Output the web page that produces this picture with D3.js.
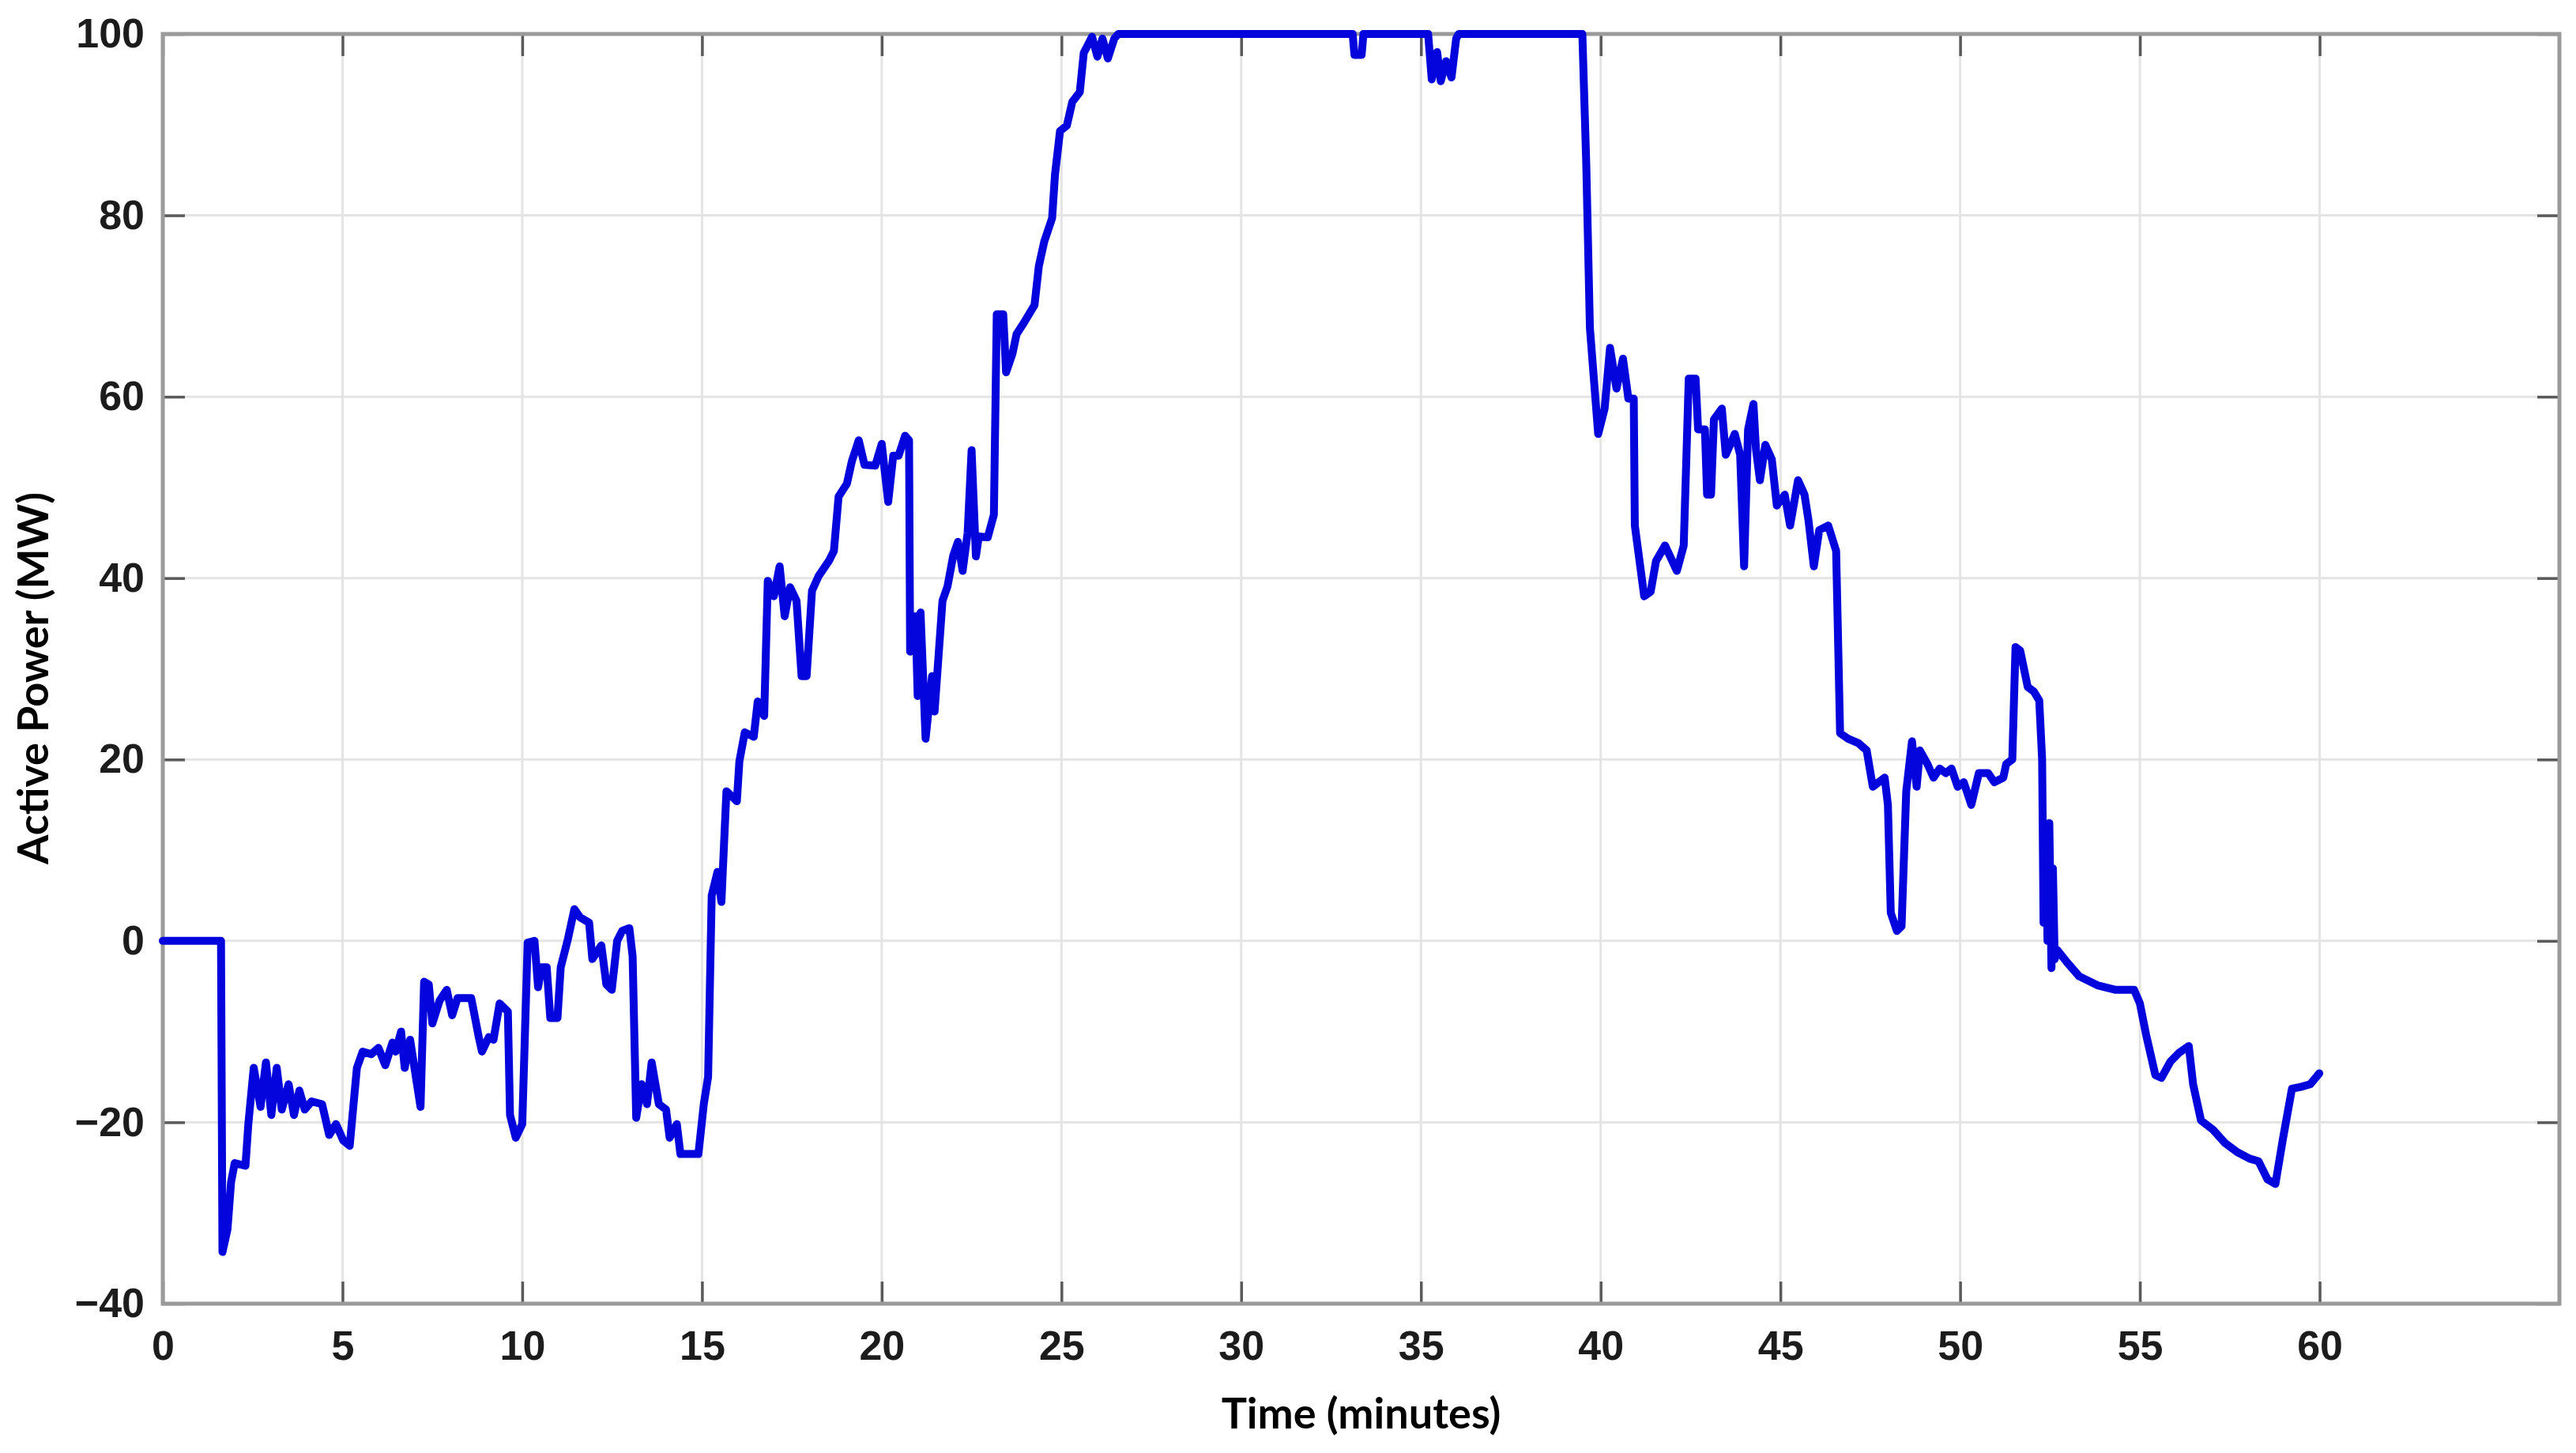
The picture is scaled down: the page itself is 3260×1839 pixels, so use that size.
<!DOCTYPE html>
<html>
<head>
<meta charset="utf-8">
<script src="https://cdn.jsdelivr.net/npm/d3@7"></script>
<style>
  html, body { margin: 0; padding: 0; background: #ffffff; }
  svg { display: block; }
</style>
</head>
<body>
<svg id="chart" width="3260" height="1839"></svg>
<script>
// ---------------- DATA ----------------
const timeMin = [
  0, 1.62, 1.66, 1.8, 1.9, 2.0, 2.3, 2.38, 2.53, 2.72, 2.87, 3.02, 3.17, 3.31, 3.5, 3.65, 3.8, 3.95, 4.14, 4.43,
  4.63, 4.82, 5.02, 5.2, 5.4, 5.56, 5.8, 6.0, 6.19, 6.39, 6.48, 6.63, 6.73, 6.88, 7.17, 7.27, 7.4, 7.5, 7.7, 7.9,
  8.05, 8.2, 8.58, 8.79, 8.88, 9.07, 9.2, 9.37, 9.6, 9.66, 9.82, 10.0, 10.15, 10.34, 10.44, 10.54, 10.68, 10.78, 10.98, 11.07,
  11.27, 11.45, 11.61, 11.86, 11.95, 12.2, 12.34, 12.49, 12.64, 12.78, 12.98, 13.07, 13.17, 13.32, 13.47, 13.6, 13.8, 14.0, 14.1, 14.3,
  14.4, 14.9, 15.05, 15.17, 15.27, 15.43, 15.54, 15.68, 15.97, 16.04, 16.19, 16.44, 16.55, 16.73, 16.83, 17.0, 17.16, 17.3, 17.45, 17.63,
  17.77, 17.91, 18.06, 18.24, 18.53, 18.67, 18.8, 19.03, 19.17, 19.36, 19.52, 19.82, 20.0, 20.18, 20.32, 20.47, 20.65, 20.76, 20.79, 20.94,
  21.0, 21.08, 21.22, 21.4, 21.47, 21.69, 21.83, 21.99, 22.12, 22.25, 22.39, 22.5, 22.62, 22.7, 22.95, 23.12, 23.2, 23.38, 23.46, 23.64,
  23.75, 23.93, 24.25, 24.37, 24.52, 24.74, 24.82, 24.96, 25.15, 25.3, 25.51, 25.62, 25.85, 26.0, 26.14, 26.29, 26.47, 26.58, 33.1, 33.15,
  33.35, 33.4, 35.2, 35.3, 35.45, 35.55, 35.7, 35.85, 35.98, 36.05, 39.49, 39.6, 39.7, 39.93, 40.11, 40.26, 40.44, 40.62, 40.77, 40.92,
  40.95, 41.21, 41.39, 41.54, 41.79, 42.12, 42.31, 42.45, 42.64, 42.71, 42.9, 42.96, 43.07, 43.15, 43.37, 43.48, 43.73, 43.88, 43.99, 44.1,
  44.25, 44.32, 44.43, 44.58, 44.76, 44.9, 45.12, 45.27, 45.49, 45.67, 45.78, 45.93, 46.08, 46.33, 46.55, 46.66, 46.88, 47.17, 47.4, 47.57,
  47.9, 47.99, 48.07, 48.24, 48.37, 48.5, 48.66, 48.79, 48.88, 49.09, 49.26, 49.43, 49.6, 49.76, 49.93, 50.1, 50.31, 50.52, 50.78, 50.95,
  51.2, 51.28, 51.45, 51.54, 51.67, 51.88, 52.05, 52.2, 52.28, 52.32, 52.38, 52.43, 52.48, 52.54, 52.58, 52.63, 52.7, 52.98, 53.31, 53.82,
  54.33, 54.84, 55.0, 55.17, 55.43, 55.6, 55.85, 56.1, 56.36, 56.48, 56.7, 57.03, 57.37, 57.71, 58.05, 58.3, 58.55, 58.77, 58.98, 59.23,
  59.48, 59.74, 59.99
];
const powerMW = [
  0, 0, -34.3, -31.8, -26.6, -24.5, -24.8, -20.2, -14, -18.3, -13.4, -19.2, -14, -18.6, -15.8, -19.2, -16.5, -18.6, -17.7, -18,
  -21.4, -20.2, -22, -22.6, -14, -12.2, -12.5, -11.8, -13.7, -11.2, -12.2, -10, -14, -10.9, -18.3, -4.5, -4.8, -9.1, -6.6, -5.4,
  -8.2, -6.3, -6.3, -10.6, -12.2, -10.6, -10.9, -6.9, -7.8, -19.2, -21.7, -20.2, -0.2, 0, -5.1, -2.9, -2.9, -8.5, -8.5, -2.9,
  0.2, 3.5, 2.6, 2, -2, -0.5, -4.8, -5.4, 0, 1.1, 1.4, -1.7, -19.5, -15.8, -18, -13.4, -18, -18.6, -21.7, -20.2,
  -23.5, -23.5, -18, -15, 5, 7.6, 4.3, 16.5, 15.4, 19.8, 23, 22.5, 26.4, 24.8, 39.7, 38, 41.3, 35.8, 39, 37.5,
  29.2, 29.2, 38.6, 40.2, 41.9, 43, 49, 50.4, 52.9, 55.2, 52.5, 52.4, 54.8, 48.4, 53.5, 53.5, 55.7, 55.2, 31.9, 35.8,
  27, 36.2, 22.3, 29.2, 25.3, 37.5, 39.1, 42.5, 44, 40.8, 45, 54.1, 42.4, 44.6, 44.5, 47, 69.1, 69.1, 62.7, 64.8,
  66.9, 68, 70.1, 74.4, 77.1, 79.7, 84.5, 89.3, 89.9, 92.5, 93.6, 97.9, 99.7, 97.5, 99.5, 97.3, 99.5, 100, 100, 97.7,
  97.7, 100, 100, 95, 98, 94.8, 97, 95.2, 99.5, 100, 100, 85.5, 67.6, 55.9, 58.7, 65.4, 60.9, 64.2, 59.8, 59.8,
  45.8, 38, 38.5, 41.9, 43.6, 40.8, 43.6, 62, 62, 56.4, 56.4, 49.2, 49.2, 57.5, 58.7, 53.6, 55.9, 53.6, 41.3, 56.4,
  59.2, 54.2, 50.8, 54.7, 53.1, 48, 49.2, 45.8, 50.8, 49.2, 46.4, 41.3, 45.3, 45.8, 43, 22.9, 22.3, 21.8, 21, 17,
  18, 15, 3.1, 1.1, 1.6, 16.5, 22, 17, 21, 19.5, 18, 19, 18.5, 19, 17, 17.5, 15, 18.5, 18.5, 17.5,
  18, 19.5, 20, 32.4, 32, 28, 27.5, 26.5, 20, 2, 12.5, 0, 13, -3, 8, -2, -1, -2.4, -3.9, -4.9,
  -5.4, -5.4, -6.9, -10.3, -14.8, -15.1, -13.3, -12.3, -11.6, -15.8, -19.8, -20.8, -22.3, -23.3, -24, -24.3, -26.3, -26.8, -21.8, -16.3,
  -16.1, -15.8, -14.6
];
const xTickValues = [0, 5, 10, 15, 20, 25, 30, 35, 40, 45, 50, 55, 60];
const yTickValues = [-40, -20, 0, 20, 40, 60, 80, 100];
const xDomain = [0, 66.67];
const yDomain = [-40, 100];
const xTitle = "Time (minutes)";
const yTitle = "Active Power (MW)";

// ---------------- LAYOUT ----------------
const W = 3260, H = 1839;
const L = 206, R = 3239, T = 43, B = 1650;
const tickLen = 28;

const svg = d3.select("#chart");
svg.append("rect").attr("x", 0).attr("y", 0).attr("width", W).attr("height", H).attr("fill", "#ffffff");

const x = d3.scaleLinear().domain(xDomain).range([L, R]);
const y = d3.scaleLinear().domain(yDomain).range([B, T]);

// grid
const grid = svg.append("g").attr("class", "grid");
grid.selectAll("line.vg").data(xTickValues).join("line")
  .attr("class", "vg")
  .attr("x1", d => x(d)).attr("x2", d => x(d))
  .attr("y1", T).attr("y2", B)
  .attr("stroke", "#e4e4e4").attr("stroke-width", 3);
grid.selectAll("line.hg").data(yTickValues).join("line")
  .attr("class", "hg")
  .attr("x1", L).attr("x2", R)
  .attr("y1", d => y(d)).attr("y2", d => y(d))
  .attr("stroke", "#e4e4e4").attr("stroke-width", 3);

// axes (inward ticks on all four sides)
const tickColor = "#5a5a5a";
function styleAxis(g) {
  g.select(".domain").remove();
  g.selectAll(".tick line").attr("stroke", tickColor).attr("stroke-width", 3.5);
}
const fontTicks = "'Liberation Sans', Arial, sans-serif";

const gBottom = svg.append("g").attr("transform", `translate(0,${B})`)
  .call(d3.axisBottom(x).tickValues(xTickValues).tickSizeInner(-tickLen).tickSizeOuter(0).tickPadding(34).tickFormat(d3.format("d")));
styleAxis(gBottom);
gBottom.selectAll(".tick text")
  .attr("font-family", fontTicks).attr("font-size", 52).attr("font-weight", "bold").attr("fill", "#1c1c1c");

const gLeft = svg.append("g").attr("transform", `translate(${L},0)`)
  .call(d3.axisLeft(y).tickValues(yTickValues).tickSizeInner(-tickLen).tickSizeOuter(0).tickPadding(23).tickFormat(d3.format("d")));
styleAxis(gLeft);
gLeft.selectAll(".tick text")
  .attr("font-family", fontTicks).attr("font-size", 52).attr("font-weight", "bold").attr("fill", "#1c1c1c");

const gTop = svg.append("g").attr("transform", `translate(0,${T})`)
  .call(d3.axisTop(x).tickValues(xTickValues).tickSizeInner(-tickLen).tickSizeOuter(0).tickFormat(""));
styleAxis(gTop);
const gRight = svg.append("g").attr("transform", `translate(${R},0)`)
  .call(d3.axisRight(y).tickValues(yTickValues).tickSizeInner(-tickLen).tickSizeOuter(0).tickFormat(""));
styleAxis(gRight);

// box
svg.append("rect")
  .attr("x", L).attr("y", T).attr("width", R - L).attr("height", B - T)
  .attr("fill", "none").attr("stroke", "#9a9a9a").attr("stroke-width", 5);

// data line
const pts = timeMin.map((t, i) => [t, powerMW[i]]);
const line = d3.line().x(d => x(d[0])).y(d => y(d[1]));
svg.append("path")
  .datum(pts)
  .attr("d", line)
  .attr("fill", "none")
  .attr("stroke", "#0404dc")
  .attr("stroke-width", 10)
  .attr("stroke-linejoin", "round")
  .attr("stroke-linecap", "round");

// titles
const fontTitle = "Lato, 'Open Sans', sans-serif";
svg.append("text")
  .attr("x", (L + R) / 2).attr("y", 1808)
  .attr("text-anchor", "middle")
  .attr("font-family", fontTitle).attr("font-size", 54).attr("font-weight", "bold").attr("fill", "#000")
  .text(xTitle);
svg.append("text")
  .attr("transform", `translate(61,${(T + B) / 2 + 12}) rotate(-90)`)
  .attr("text-anchor", "middle")
  .attr("font-family", fontTitle).attr("font-size", 54).attr("font-weight", "bold").attr("fill", "#000")
  .text(yTitle);
</script>
</body>
</html>
